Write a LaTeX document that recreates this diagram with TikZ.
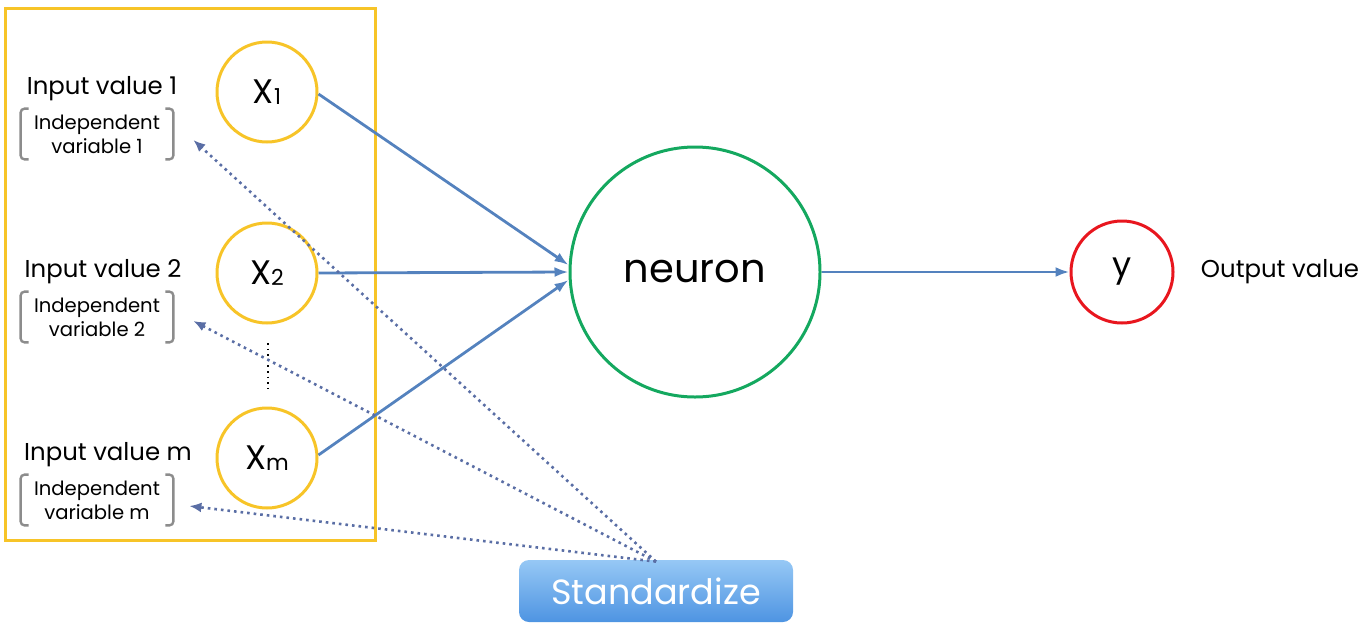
\documentclass[tikz,border=0pt]{standalone}
\usepackage{fontspec}
\setmainfont{Poppins}
\usepackage{xcolor}
\usepackage{tikz}
\usetikzlibrary{positioning,calc,arrows.meta,shapes.geometric}

\definecolor{inyellow}{RGB}{247,196,40}
\definecolor{neugreen}{RGB}{20,168,95}
\definecolor{outred}{RGB}{232,22,30}
\definecolor{linkblue}{RGB}{84,130,190}
\definecolor{dotblue}{RGB}{90,110,165}
\definecolor{brgray}{RGB}{140,140,140}
\definecolor{stdtop}{RGB}{150,200,245}
\definecolor{stdbot}{RGB}{78,148,226}

\tikzset{
	incircle/.style={circle, draw=inyellow, line width=1.5pt, minimum size=50pt, inner sep=0, font=\fontsize{17}{20}\selectfont},
	link/.style={draw=linkblue, line width=1.4pt, -{Latex[length=7pt,width=5pt]}},
	stdlink/.style={draw=dotblue, line width=1.3pt, dotted, -{Latex[length=6pt,width=5pt]}},
	inlabel/.style={font=\fontsize{12.2}{14}\selectfont},
	deplabel/.style={font=\fontsize{9.8}{12}\selectfont, align=center, minimum width=76pt, minimum height=25pt, inner sep=0},
}

% pair of gray brackets round a node
\newcommand{\brackets}[1]{
	\draw[brgray, line width=1.2pt, rounded corners=2pt]
		([xshift=4pt]#1.north west) -- (#1.north west) -- (#1.south west) -- ([xshift=4pt]#1.south west);
	\draw[brgray, line width=1.2pt, rounded corners=2pt]
		([xshift=-4pt]#1.north east) -- (#1.north east) -- (#1.south east) -- ([xshift=-4pt]#1.south east);
}
\newcommand{\xsub}[1]{X\raisebox{-0.5pt}{\fontsize{11}{12}\selectfont #1}}

\begin{document}
\begin{tikzpicture}[x=0.5pt, y=-0.5pt]
	\useasboundingbox (0,0) rectangle (1360,632);

	% input frame
	\draw[inyellow, line width=1.5pt] (5,8) rectangle (375,540);

	% inputs
	\node[incircle] (x1) at (267,92) {\xsub{1}};
	\node[incircle] (x2) at (267,273) {\xsub{2}};
	\node[incircle] (xm) at (267,458) {\xsub{m}};
	\draw[dotted, line width=0.8pt] (268,343) -- (268,388);

	\node[inlabel] (in1) at (102,89) {Input value 1};
	\node[inlabel] (in2) at (103,272) {Input value 2};
	\node[inlabel] (inm) at (108,455) {Input value m};

	\node[deplabel] (dep1) at (97,134) {Independent\\variable 1};
	\node[deplabel] (dep2) at (97,317) {Independent\\variable 2};
	\node[deplabel] (depm) at (97,500) {Independent\\variable m};
	\brackets{dep1}
	\brackets{dep2}
	\brackets{depm}

	% neuron and output
	\node[circle, draw=neugreen, line width=1.5pt, minimum size=125pt, font=\fontsize{20}{24}\selectfont] (neuron) at (695,272) {neuron};
	\node[circle, draw=outred, line width=1.5pt, minimum size=51pt, font=\fontsize{17}{20}\selectfont] (y) at (1122,272) {y};
	\node[inlabel] (outlbl) at (1280,272) {Output value};

	\draw[link] ([yshift=-1pt]x1.east) -- ([yshift=3.5pt]neuron.west);
	\draw[link] (x2.east) -- (neuron.west);
	\draw[link] ([yshift=1.5pt]xm.east) -- ([yshift=-4pt]neuron.west);
	\draw[link] (neuron.east) -- (y.west);

	% standardize button
	\node[draw=none, rounded corners=5pt, top color=stdtop, bottom color=stdbot,
		minimum width=137pt, minimum height=31pt, text=white, font=\fontsize{17.5}{20}\selectfont] (std) at (656,591) {Standardize};

	\draw[stdlink] ([yshift=-1pt]std.north) -- ([xshift=10pt,yshift=-3pt]dep1.east);
	\draw[stdlink] ([yshift=-1pt]std.north) -- ([xshift=10pt,yshift=-2pt]dep2.east);
	\draw[stdlink] ([yshift=-1pt]std.north) -- ([xshift=8pt,yshift=-3pt]depm.east);
\end{tikzpicture}
\end{document}
